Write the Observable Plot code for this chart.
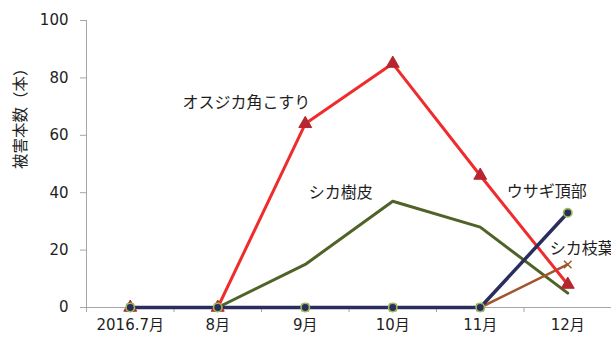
<!DOCTYPE html>
<html>
<head>
<meta charset="utf-8">
<script src="https://cdn.jsdelivr.net/npm/d3@7"></script>
<script src="https://cdn.jsdelivr.net/npm/@observablehq/plot@0.6"></script>
<style>
  html, body { margin: 0; padding: 0; background: #fff; }
  svg { display: block; }
</style>
</head>
<body>
<div id="chart"></div>
<script>
// ---- data ----
const months = ["2016.7月", "8月", "9月", "10月", "11月", "12月"];
const antlerRub = [0, 0, 64, 85, 46, 8];     // オスジカ角こすり
const deerBark = [0, 0, 15, 37, 28, 5];      // シカ樹皮
const rabbitTop = [0, 0, 0, 0, 0, 33];       // ウサギ頂部
const deerLeaves = [0, 0, 0, 0, 0, 15];      // シカ枝葉
const seriesNames = ["オスジカ角こすり", "シカ樹皮", "ウサギ頂部", "シカ枝葉"];
const yTicks = [0, 20, 40, 60, 80, 100];
const yLabel = "被害本数（本）";

const toRows = (vals) => vals.map((v, i) => ({i, v}));
const rAntler = toRows(antlerRub);
const rBark = toRows(deerBark);
const rRabbit = toRows(rabbitTop);
const rLeaves = toRows(deerLeaves);

const idx = months.map((_, i) => i);
const bounds = months.map((_, i) => i - 0.5).concat([months.length - 0.5]);

const font = `"DejaVu Sans", "Noto Sans CJK JP", sans-serif`;
const ink = "#1e1e1e";
const axisGray = "#a6a6a6";

const C = {
  red: "#F02B2B", redMark: "#B5262E",
  olive: "#4F6228",
  navy: "#2A2E5C", navyEdge: "#9BBB59",
  brown: "#A0562E"
};

const chart = Plot.plot({
  width: 611,
  height: 343,
  marginLeft: 86,
  marginRight: 0,
  marginTop: 20,
  marginBottom: 36,
  style: {fontFamily: font, fontSize: "15px", color: ink, background: "#fff"},
  x: {domain: [-0.5, months.length - 0.5], axis: null},
  y: {domain: [0, 100], axis: null},
  marks: [
    // axes
    Plot.axisY({ticks: yTicks, tickSize: 6, tickPadding: 12, stroke: axisGray, fill: ink, fontSize: 15, label: null}),
    Plot.axisX({ticks: idx, tickSize: 0, tickPadding: 12, tickFormat: (d) => months[d], fill: ink, fontSize: 15, label: null}),
    Plot.axisX({ticks: bounds, tickSize: 5, tickFormat: () => "", stroke: axisGray, label: null}),
    Plot.frame({anchor: "left", stroke: axisGray}),
    Plot.frame({anchor: "bottom", stroke: axisGray}),
    Plot.text([yLabel], {frameAnchor: "left", rotate: -90, dx: -65, dy: 5, fill: ink, fontSize: 15.5}),

    // lines
    Plot.line(rBark, {x: "i", y: "v", stroke: C.olive, strokeWidth: 3}),
    Plot.line(rLeaves, {x: "i", y: "v", stroke: C.brown, strokeWidth: 2.6}),
    Plot.line(rAntler, {x: "i", y: "v", stroke: C.red, strokeWidth: 3}),
    Plot.line(rRabbit, {x: "i", y: "v", stroke: C.navy, strokeWidth: 3.5}),

    // markers
    Plot.dot(rAntler, {x: "i", y: "v", symbol: "triangle", r: 4.8, fill: C.redMark, stroke: C.redMark, strokeWidth: 1}),
    Plot.dot(rLeaves, {x: "i", y: "v", symbol: "times", r: 3.5, stroke: C.brown, strokeWidth: 1.5}),
    Plot.dot(rRabbit, {x: "i", y: "v", r: 4.2, fill: C.navy, stroke: C.navyEdge, strokeWidth: 1.6}),

    // series labels, anchored to data points
    Plot.text([rAntler[2]], {x: "i", y: "v", text: () => seriesNames[0], textAnchor: "end", dx: 5, dy: -21, fill: ink, fontSize: 16}),
    Plot.text([rBark[3]], {x: "i", y: "v", text: () => seriesNames[1], textAnchor: "end", dx: -20, dy: -8, fill: ink, fontSize: 16}),
    Plot.text([rRabbit[5]], {x: "i", y: "v", text: () => seriesNames[2], textAnchor: "end", dx: 19, dy: -21, fill: ink, fontSize: 16}),
    Plot.text([rLeaves[5]], {x: "i", y: "v", text: () => seriesNames[3], textAnchor: "start", dx: -18, dy: -16, fill: ink, fontSize: 16})
  ]
});
document.getElementById("chart").appendChild(chart);
</script>
</body>
</html>
